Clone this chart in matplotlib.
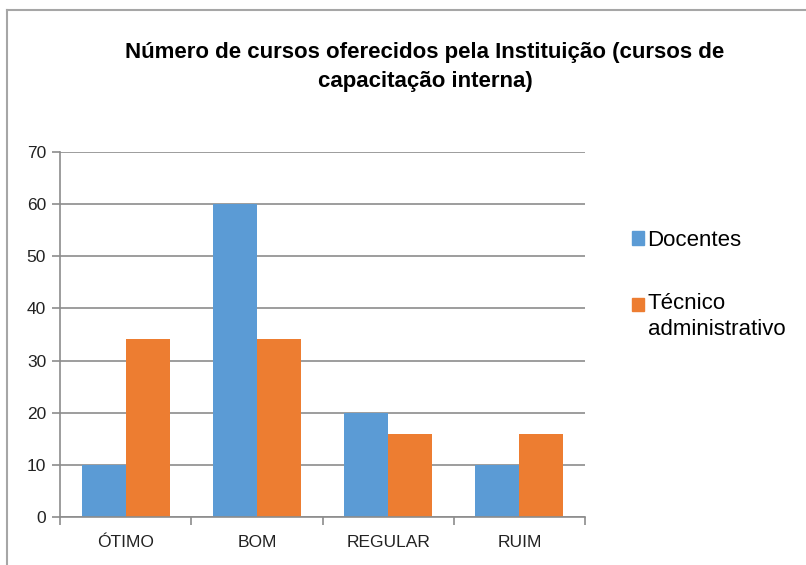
import numpy as np
import matplotlib.pyplot as plt
from matplotlib.lines import Line2D
from matplotlib.patches import Patch, Rectangle
from matplotlib.legend_handler import HandlerPatch

categorias = ["ÓTIMO", "BOM", "REGULAR", "RUIM"]
docentes = [10, 60, 20, 10]
tecnicos = [34.2, 34.2, 16, 16]
series_nomes = ["Docentes", "Técnico\nadministrativo"]
titulo = "Número de cursos oferecidos pela Instituição (cursos de\ncapacitação interna)"

azul = "#5b9bd5"
laranja = "#ed7d31"
cinza = "#8c8c8c"

plt.rcParams['font.family'] = ['Liberation Sans', 'DejaVu Sans']

fig = plt.figure(figsize=(8.06, 5.65), dpi=100)
ax = fig.add_axes([60/806, 1-517/565, 525/806, 365/565])

x = np.arange(len(categorias))
w = 0.335
ax.bar(x - w/2, docentes, w, color=azul)
ax.bar(x + w/2, tecnicos, w, color=laranja)

ax.set_xlim(-0.5, 3.5)
ax.set_ylim(0, 70)
ax.set_yticks(range(0, 71, 10))
ax.yaxis.grid(True, color=cinza, linewidth=1.2)
ax.set_axisbelow(True)
for s in ["top", "right"]:
    ax.spines[s].set_visible(False)
for s in ["left", "bottom"]:
    ax.spines[s].set_color(cinza)
    ax.spines[s].set_linewidth(1.2)

# ticks do eixo x nas divisas das categorias
ax.set_xticks(np.arange(-0.5, 4, 1))
ax.set_xticklabels([])
ax.set_xticks(x, minor=True)
ax.set_xticklabels(categorias, minor=True)
ax.tick_params(axis="x", which="major", length=6, color=cinza, width=1.2)
ax.tick_params(axis="x", which="minor", length=0, pad=13, labelsize=12.5, labelcolor="#222222")
ax.tick_params(axis="y", length=6, color=cinza, width=1.2, labelsize=12.5, labelcolor="#222222", pad=4)

fig.text(425/806, 1-67/565, titulo, ha="center", va="center", fontsize=16,
         fontweight="bold", linespacing=1.5)


# quadradinho alinhado com a primeira linha do rótulo de duas linhas
def quadrado_acima(legend, orig_handle, xdescent, ydescent, width, height, fontsize):
    return Rectangle((-xdescent, -ydescent + 0.55 * fontsize), width, height)


handles = [Patch(color=azul), Patch(color=laranja)]
leg = fig.legend(handles, series_nomes, loc="upper left", bbox_to_anchor=(612/806, 1-210/565),
                 frameon=False, fontsize=16, handlelength=0.55, handleheight=0.55,
                 handletextpad=0.15, labelspacing=1.9,
                 handler_map={handles[1]: HandlerPatch(patch_func=quadrado_acima)})
for t in leg.get_texts():
    t.set_linespacing(1.3)

# moldura do gráfico
fig.add_artist(Line2D([7/806, 7/806], [0, 1-10/565], color="#a6a6a6", linewidth=1.5))
fig.add_artist(Line2D([7/806, 1], [1-10/565, 1-10/565], color="#a6a6a6", linewidth=1.5))

fig.savefig("out.png", dpi=100)
